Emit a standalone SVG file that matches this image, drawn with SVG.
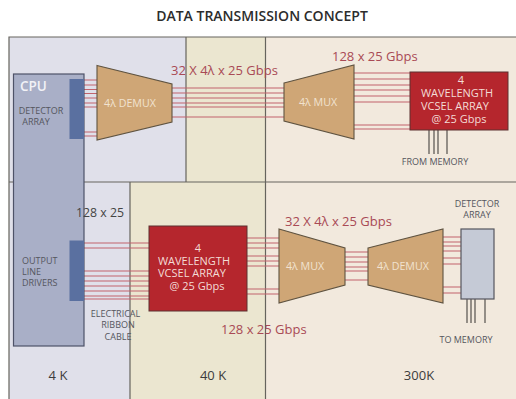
<svg xmlns="http://www.w3.org/2000/svg" width="516" height="399" viewBox="0 0 516 399">
<style>
text{font-family:"Open Sans","Liberation Sans",sans-serif}
.zone{stroke:none}
.div{fill:none;stroke:#66645e;stroke-width:1.2}
.box{stroke:#4e5268;stroke-width:1.2;fill:#a9afc7}
.strip{fill:#5a70a0;stroke:none}
.trap{fill:#cfa676;stroke:#5f5340;stroke-width:1.1}
.red{fill:#b5262d;stroke:#5d3030;stroke-width:1}
.fib{fill:none;stroke:#c2636c;stroke-width:1.2}
.pin{fill:none;stroke:#55524e;stroke-width:1.2}
.w{fill:#f1e2d0;font-size:10.7px;text-anchor:middle}
.wt{fill:#f3dcd6;font-size:11px;text-anchor:middle}
.g{fill:#55565e;font-size:9px;text-anchor:middle}
.r{fill:#a94a55;font-size:13px}
.k{fill:#3c3c3c;font-size:13px;text-anchor:middle}
</style>
<rect width="516" height="399" fill="#fff"/>
<g id="zones">
<rect class="zone" x="9" y="37" width="177" height="145" fill="#e0e0ea"/>
<rect class="zone" x="186" y="37" width="79" height="145" fill="#ebe6d0"/>
<rect class="zone" x="265" y="37" width="251" height="145" fill="#f2e9dd"/>
<rect class="zone" x="9" y="182" width="121" height="217" fill="#e0e0ea"/>
<rect class="zone" x="130" y="182" width="135" height="217" fill="#ebe6d0"/>
<rect class="zone" x="265" y="182" width="251" height="217" fill="#f2e9dd"/>
<path class="div" d="M516 37H9V399M9 182H516M186 37V182M265.500 37V399M130 182V399"/>
</g>
<g id="connectors">
<path class="fib" d="M84 80H97M84 85H97M84 89.500H97M84 93.500H97M84 98H97M84 103H97M84 107H97M84 132H97M84 136H97"/>
<path class="fib" d="M172 88H284M172 93H284M172 98H284M172 103H284M172 107H284M172 117H284"/>
<path class="fib" d="M354 73H410M354 79H410M354 85H410M354 90H410M354 96H410M354 102H410M354 125H410M354 129H410"/>
<path class="pin" d="M429 130V154M434 130V154M438 130V154M447 130V154"/>
<path class="fib" d="M84 243H149M84 248H149M84 271H149M84 276H149M84 281H149M84 286H149M84 291H149M84 296H149M84 299H149"/>
<path class="fib" d="M247 238H279M247 243H279M247 248H279M247 256H279M247 261H279M247 266H279M247 289H279M247 294H279"/>
<path class="fib" d="M345 252H368M345 257H368M345 262H368M345 267H368M345 271H368M345 280H368"/>
<path class="fib" d="M443 237H461M443 242H461M443 246H461M443 251H461M443 258H461M443 264H461M443 287H461M443 293H461"/>
<path class="pin" d="M467 299V323M471 299V323M475 299V323M485 299V323"/>
</g>
<g id="cpu">
<rect class="box" x="13.500" y="74" width="70.500" height="272"/>
<rect class="strip" x="69.500" y="79" width="14.500" height="60"/>
<rect class="strip" x="69.500" y="240.500" width="14.500" height="60.500"/>
<text x="20" y="91" fill="#f2f2f6" font-size="13.500" font-weight="600">CPU</text>
<text class="g" x="41" y="114">DETECTOR</text>
<text class="g" x="36" y="125">ARRAY</text>
<text class="g" x="22" y="264" style="text-anchor:start">OUTPUT</text>
<text class="g" x="22" y="274.500" style="text-anchor:start">LINE</text>
<text class="g" x="22" y="286" style="text-anchor:start">DRIVERS</text>
</g>
<g id="demux-top"><path class="trap" d="M97 65.500L172 84V122L97 140Z"/><text class="w" x="130" y="107">4λ DEMUX</text></g>
<g id="mux-top"><path class="trap" d="M284 83L354 65V139L284 121Z"/><text class="w" x="318" y="106">4λ MUX</text></g>
<g id="vcsel-top"><rect class="red" x="410" y="72" width="98" height="58"/>
<text class="wt" x="461" y="84">4</text><text class="wt" x="457" y="97">WAVELENGTH</text><text class="wt" x="455" y="110">VCSEL ARRAY</text><text class="wt" x="459" y="123">@ 25 Gbps</text></g>
<g id="vcsel-bottom"><rect class="red" x="149" y="226" width="98" height="85"/>
<text class="wt" x="198" y="252">4</text><text class="wt" x="194" y="264.500">WAVELENGTH</text><text class="wt" x="192" y="277">VCSEL ARRAY</text><text class="wt" x="197" y="289.500">@ 25 Gbps</text></g>
<g id="mux-bottom"><path class="trap" d="M279 229L345 248V285L279 303Z"/><text class="w" x="305" y="270">4λ MUX</text></g>
<g id="demux-bottom"><path class="trap" d="M368 248L443 229V303L368 285Z"/><text class="w" x="403" y="270">4λ DEMUX</text></g>
<g id="detector-bottom"><rect x="461" y="229" width="33" height="70" fill="#c5cad6" stroke="#55565e" stroke-width="1.2"/></g>
<g id="labels">
<text x="262" y="21" text-anchor="middle" fill="#2c2c2c" font-size="14" font-weight="600">DATA TRANSMISSION CONCEPT</text>
<text class="r" x="171" y="75">32 X 4λ x 25 Gbps</text>
<text class="r" x="332" y="61">128 x 25 Gbps</text>
<text class="r" x="285" y="226">32 X 4λ x 25 Gbps</text>
<text class="r" x="221" y="334">128 x 25 Gbps</text>
<text x="76" y="217" fill="#444" font-size="12.300">128 x 25</text>
<text class="g" x="115.500" y="317">ELECTRICAL</text>
<text class="g" x="118" y="328">RIBBON</text>
<text class="g" x="118" y="339.500">CABLE</text>
<text class="g" x="435" y="165">FROM MEMORY</text>
<text class="g" x="477" y="207">DETECTOR</text>
<text class="g" x="477" y="218">ARRAY</text>
<text class="g" x="466" y="343">TO MEMORY</text>
<text class="k" x="58" y="380">4 K</text>
<text class="k" x="213" y="380">40 K</text>
<text class="k" x="419" y="380">300K</text>
</g>
</svg>
